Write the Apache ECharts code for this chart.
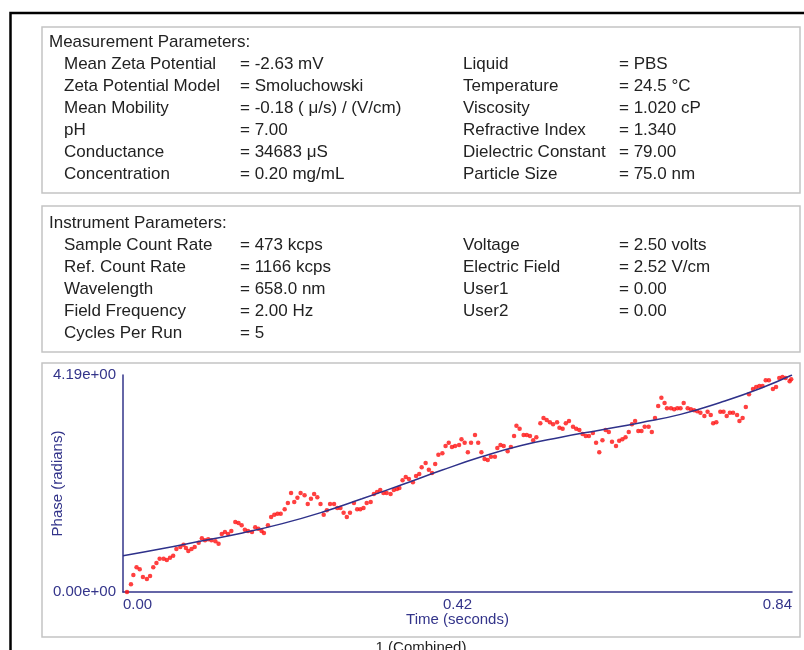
<!DOCTYPE html>
<html>
<head>
<meta charset="utf-8">
<script src="https://cdn.jsdelivr.net/npm/echarts@6/dist/echarts.min.js"></script>
<style>
html,body{margin:0;padding:0;background:#fff;}
#chart{width:804px;height:650px;}
</style>
</head>
<body>
<div id="chart"></div>
<script>
// ---- Data ----
const measLabels = ['Mean Zeta Potential','Zeta Potential Model','Mean Mobility','pH','Conductance','Concentration'];
const measValues = ['= -2.63 mV','= Smoluchowski','= -0.18 ( \u03bc/s) / (V/cm)','= 7.00','= 34683 \u03bcS','= 0.20 mg/mL'];
const measLabels2 = ['Liquid','Temperature','Viscosity','Refractive Index','Dielectric Constant','Particle Size'];
const measValues2 = ['= PBS','= 24.5 \u00b0C','= 1.020 cP','= 1.340','= 79.00','= 75.0 nm'];
const instLabels = ['Sample Count Rate','Ref. Count Rate','Wavelength','Field Frequency','Cycles Per Run'];
const instValues = ['= 473 kcps','= 1166 kcps','= 658.0 nm','= 2.00 Hz','= 5'];
const instLabels2 = ['Voltage','Electric Field','User1','User2'];
const instValues2 = ['= 2.50 volts','= 2.52 V/cm','= 0.00','= 0.00'];

const xTickLabels = ['0.00','0.42','0.84'];
const yTickLabels = ['0.00e+00','4.19e+00'];

const timeS = [0.005,0.010,0.013,0.017,0.021,0.025,0.030,0.034,0.038,0.042,0.046,0.051,0.055,0.059,0.063,0.067,0.072,0.076,0.079,0.082,0.086,0.090,0.095,0.099,0.103,0.107,0.111,0.116,0.120,0.124,0.128,0.132,0.136,0.141,0.145,0.149,0.153,0.157,0.162,0.166,
0.170,0.174,0.177,0.182,0.186,0.190,0.194,0.198,0.203,0.207,0.211,0.215,0.219,0.223,0.228,0.232,0.236,0.240,0.244,0.248,0.252,0.256,0.260,0.265,0.269,0.273,0.277,0.281,0.285,0.290,0.294,0.298,0.302,0.306,0.311,0.315,0.319,0.323,0.327,0.331,0.336,0.340,
0.344,0.347,0.351,0.355,0.359,0.364,0.368,0.372,0.375,0.380,0.384,0.388,0.392,0.396,0.401,0.405,0.409,0.413,0.417,0.422,0.425,0.429,0.433,0.437,0.442,0.446,0.450,0.454,0.458,0.462,0.467,0.470,0.474,0.478,0.483,0.487,0.491,0.494,0.498,0.503,0.507,
0.511,0.515,0.519,0.524,0.528,0.532,0.536,0.540,0.545,0.548,0.552,0.556,0.560,0.565,0.569,0.573,0.577,0.581,0.585,0.590,0.594,0.598,0.602,0.606,0.610,0.614,0.619,0.623,0.627,0.631,0.635,0.639,0.643,0.647,0.651,0.655,0.660,0.664,0.668,0.672,0.676,0.680,
0.683,0.688,0.692,0.696,0.700,0.704,0.709,0.713,0.717,0.721,0.725,0.730,0.734,0.738,0.741,0.745,0.750,0.754,0.758,0.762,0.766,0.771,0.774,0.778,0.782,0.786,0.791,0.795,0.799,0.803,0.807,0.811,0.816,0.820,0.824,0.828,0.832,0.837,0.839];

const phaseRad = [0.00,0.15,0.33,0.48,0.44,0.29,0.25,0.31,0.48,0.56,0.64,0.64,0.62,0.66,0.70,0.83,0.87,0.91,0.85,0.79,0.83,0.87,0.95,1.04,1.00,1.02,1.00,0.98,0.93,1.12,1.16,1.12,1.18,1.35,1.33,1.29,1.20,1.18,1.16,1.25,
1.22,1.18,1.14,1.29,1.45,1.49,1.51,1.51,1.60,1.72,1.91,1.74,1.82,1.91,1.87,1.70,1.80,1.89,1.83,1.70,1.49,1.58,1.70,1.70,1.62,1.62,1.53,1.45,1.53,1.72,1.60,1.60,1.62,1.72,1.74,1.89,1.93,1.97,1.91,1.91,1.89,1.97,
1.99,2.01,2.16,2.22,2.18,2.12,2.24,2.28,2.41,2.49,2.36,2.30,2.47,2.65,2.68,2.82,2.88,2.80,2.82,2.84,2.95,2.88,2.70,2.88,3.03,2.88,2.70,2.57,2.55,2.61,2.61,2.78,2.84,2.82,2.72,2.80,3.01,3.21,3.15,3.03,3.03,
3.01,2.93,2.99,3.26,3.36,3.32,3.28,3.24,3.28,3.17,3.15,3.26,3.30,3.19,3.15,3.13,3.05,3.01,3.01,3.07,2.88,2.70,2.93,3.13,3.09,2.90,2.82,2.92,2.95,2.99,3.09,3.24,3.30,3.11,3.11,3.19,3.19,3.09,3.36,3.59,3.75,3.65,
3.55,3.55,3.53,3.55,3.55,3.65,3.55,3.53,3.51,3.49,3.46,3.40,3.48,3.42,3.26,3.28,3.48,3.48,3.40,3.46,3.46,3.42,3.30,3.36,3.57,3.82,3.92,3.96,3.98,3.98,4.09,4.09,3.92,3.96,4.13,4.15,4.13,4.07,4.11];

const fitTime = [0.00,0.05,0.10,0.15,0.20,0.25,0.30,0.35,0.40,0.45,0.50,0.55,0.60,0.65,0.70,0.75,0.80,0.84];
const fitPhase = [0.70,0.84,0.99,1.14,1.32,1.54,1.80,2.07,2.35,2.61,2.83,2.99,3.13,3.27,3.43,3.66,3.93,4.19];

// ---- Build ----
const chart = echarts.init(document.getElementById('chart'), null, {renderer:'canvas'});
const FONT = '"Liberation Sans", Arial, sans-serif';
const TXT = '#222';
const NAVY = '#33348a';

function txt(s, x, y, opts) {
  return Object.assign({
    type:'text', x:x, y:y, z:10,
    style:{text:s, font:'17px ' + FONT, fill:TXT, verticalAlign:'middle', align:'left'}
  }, opts || {});
}

const g = [];
// outer black frame
g.push({type:'rect', z:1, shape:{x:10.5, y:13, width:800, height:700}, style:{fill:'none', stroke:'#000', lineWidth:2.5}});
// panels
g.push({type:'rect', z:1, shape:{x:42, y:27, width:758, height:166}, style:{fill:'none', stroke:'#c4c4c4', lineWidth:1.5}});
g.push({type:'rect', z:1, shape:{x:42, y:206, width:758, height:146}, style:{fill:'none', stroke:'#c4c4c4', lineWidth:1.5}});
g.push({type:'rect', z:1, shape:{x:42, y:363, width:758, height:274}, style:{fill:'none', stroke:'#c4c4c4', lineWidth:1.5}});

g.push(txt('Measurement Parameters:', 49, 42));
const mRows = [64, 86, 108, 130, 152.5, 174.5];
measLabels.forEach((s,i)=>{ g.push(txt(s, 64, mRows[i])); g.push(txt(measValues[i], 240, mRows[i])); });
measLabels2.forEach((s,i)=>{ g.push(txt(s, 463, mRows[i])); g.push(txt(measValues2[i], 619, mRows[i])); });

g.push(txt('Instrument Parameters:', 49, 223));
const iRows = [245.5, 267.5, 289.5, 311.5, 333.5];
instLabels.forEach((s,i)=>{ g.push(txt(s, 64, iRows[i])); g.push(txt(instValues[i], 240, iRows[i])); });
instLabels2.forEach((s,i)=>{ g.push(txt(s, 463, iRows[i])); g.push(txt(instValues2[i], 619, iRows[i])); });

g.push(txt('1 (Combined)', 421, 648, {style:{text:'1 (Combined)', font:'15px ' + FONT, fill:TXT, verticalAlign:'middle', align:'center'}}));

const scatterData = timeS.slice(0, Math.min(timeS.length, phaseRad.length)).map((t,i)=>[t, phaseRad[i]]);
const fitData = fitTime.map((t,i)=>[t, fitPhase[i]]);

chart.setOption({
  animation:false,
  backgroundColor:'#fff',
  graphic:{elements:g},
  grid:{left:123, right:12, top:375, bottom:58, containLabel:false},
  xAxis:{
    type:'value', min:0, max:0.84, interval:0.42,
    name:'Time (seconds)', nameLocation:'middle', nameGap:20, nameMoveOverlap:false,
    nameTextStyle:{color:NAVY, fontSize:15, fontFamily:FONT},
    axisLine:{show:true, onZero:false, lineStyle:{color:NAVY, width:1.5}},
    axisTick:{show:false}, splitLine:{show:false},
    axisLabel:{color:NAVY, fontSize:15, fontFamily:FONT, margin:5,
      alignMinLabel:'left', alignMaxLabel:'right',
      formatter:(v,idx)=>xTickLabels[idx]}
  },
  yAxis:{
    type:'value', min:0, max:4.19, interval:4.19,
    name:'Phase (radians)', nameLocation:'middle', nameGap:58, nameMoveOverlap:false,
    nameTextStyle:{color:NAVY, fontSize:15, fontFamily:FONT},
    axisLine:{show:true, lineStyle:{color:NAVY, width:1.5}},
    axisTick:{show:false}, splitLine:{show:false},
    axisLabel:{color:NAVY, fontSize:15, fontFamily:FONT, margin:7,
      formatter:(v,idx)=>yTickLabels[idx]}
  },
  series:[
    {type:'scatter', data:scatterData, symbol:'circle', symbolSize:4.5,
     itemStyle:{color:'#ff1010'}, z:3},
    {type:'line', data:fitData, smooth:true, showSymbol:false, symbol:'none',
     lineStyle:{color:'#2e318a', width:1.5}, z:4}
  ]
});
</script>
</body>
</html>
